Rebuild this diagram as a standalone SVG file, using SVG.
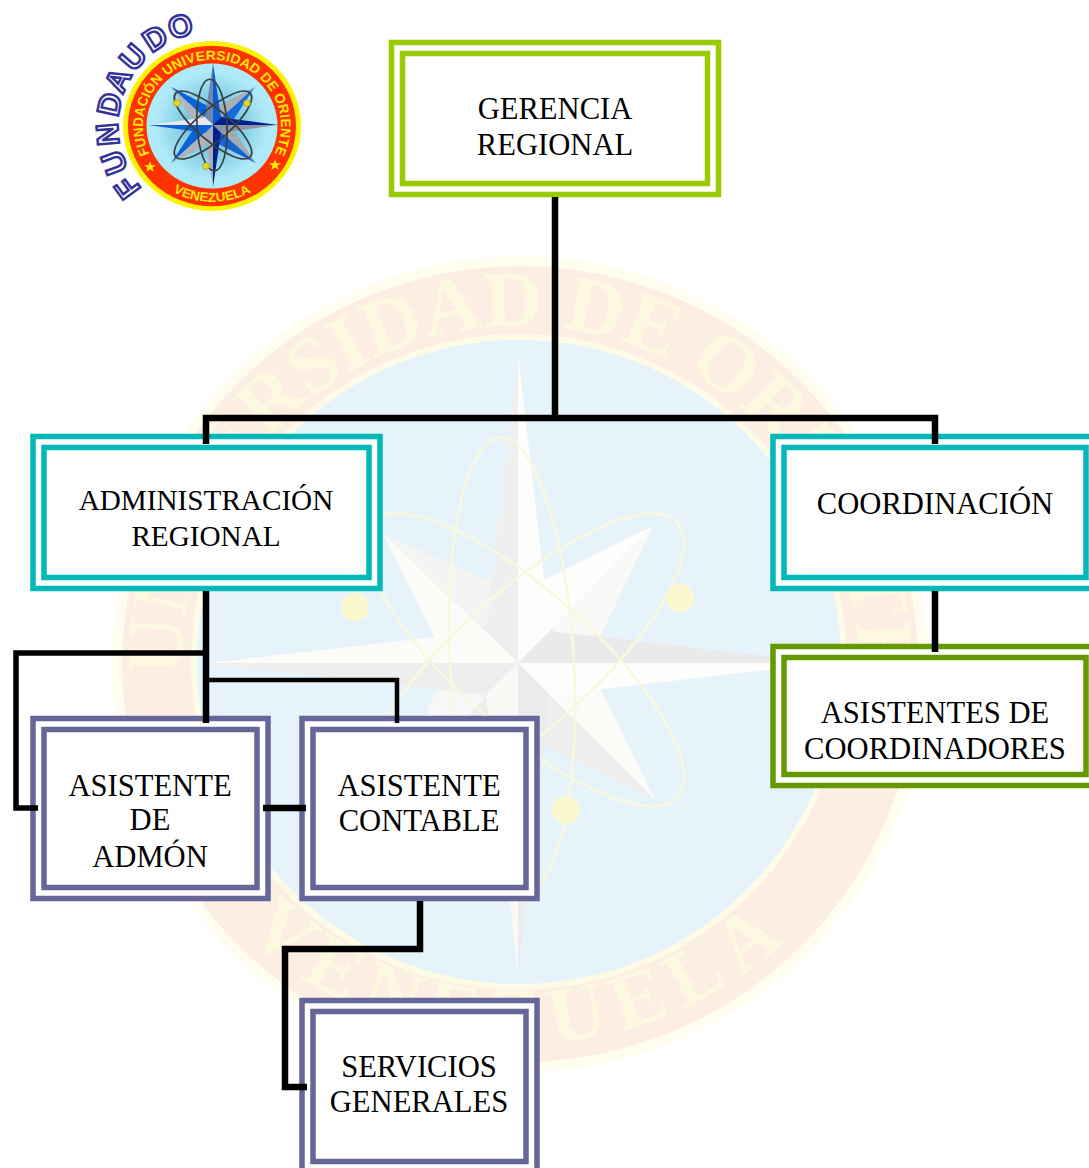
<svg xmlns="http://www.w3.org/2000/svg" width="1089" height="1168" viewBox="0 0 1089 1168">
<style>
.frame{fill:#fff;stroke-width:5.5}
.inner{fill:#fff;stroke-width:5.5}
.lime{stroke:#99cc00}.teal{stroke:#00b8b8}.moss{stroke:#669900}.slate{stroke:#666699}
.label{font-family:"Liberation Serif","Times New Roman",serif;font-size:30.6px;fill:#000;text-anchor:middle}
.narrow{font-size:29.2px}
.wire{fill:none;stroke:#000;stroke-width:6.5;stroke-linejoin:miter;stroke-linecap:butt}
.wm{font-family:"Liberation Serif",serif;font-weight:bold;font-size:80px;fill:#fdf9e0}
.lg{font-family:"Liberation Sans",Arial,sans-serif;font-weight:bold;fill:#ffe800}
.fu{font-family:"Liberation Sans",Arial,sans-serif;font-weight:bold;font-size:31px;fill:#fff;stroke:#333399;stroke-width:2.4;text-anchor:middle}
.orb{fill:none;stroke:#3a3f44;stroke-width:1.7}
.dot{fill:#e3d820;stroke:#8a8a20;stroke-width:.6}
.worb{fill:none;stroke:#f9f8dc;stroke-width:2.5}
</style>
<defs>
<radialGradient id="sky"><stop offset="0" stop-color="#4aa5c5"/><stop offset=".4" stop-color="#7cc8e0"/><stop offset=".85" stop-color="#aeeaf8"/></radialGradient>
<path id="wmTop" d="M204 784A338 338 0 1 1 836 784"/>
<path id="wmBot" d="M217 901A393 393 0 0 0 823 901"/>
<path id="lgTop" d="M151 158A69 69 0 1 1 273 158"/>
<path id="lgBot" d="M161 187A80 80 0 0 0 263 187"/>
</defs>

<g id="watermark">
<circle cx="520" cy="664" r="408" fill="#fffdf0"/>
<circle cx="520" cy="664" r="398" fill="#fdeee4"/>
<circle cx="519" cy="662" r="328" fill="#fdfbe6"/>
<circle cx="519" cy="662" r="322" fill="#e6f3fb"/>
<text class="wm"><textPath href="#wmTop" startOffset="50%" text-anchor="middle">UNIVERSIDAD DE ORIENTE</textPath></text>
<text class="wm" letter-spacing="12"><textPath href="#wmBot" startOffset="50%" text-anchor="middle">VENEZUELA</textPath></text>
<g transform="translate(518 663)">
<polygon points="-135,-129 -70,0 0,-70" fill="#f4f5f2"/>
<polygon points="135,-137 70,0 0,-70" fill="#f8f9f6"/>
<polygon points="137,137 70,0 0,70" fill="#eeeeee"/>
<polygon points="-128,137 -70,0 0,70" fill="#f7f8f5"/>
<polygon points="-135,-129 -70,0 0,0" fill="#fbfbf8"/>
<polygon points="135,-137 0,-70 0,0" fill="#fdfdfb"/>
<polygon points="137,137 70,0 0,0" fill="#fbfbf8"/>
<polygon points="-128,137 0,70 0,0" fill="#ededed"/>
<polygon points="0,-310 -32,-32 0,0" fill="#efefef"/>
<polygon points="0,-310 32,-32 0,0" fill="#fdfdfb"/>
<polygon points="310,0 32,-32 0,0" fill="#eaeaea"/>
<polygon points="310,0 32,32 0,0" fill="#fdfdfb"/>
<polygon points="0,310 32,32 0,0" fill="#ececec"/>
<polygon points="0,310 -32,32 0,0" fill="#f9f9f6"/>
<polygon points="-310,0 -32,32 0,0" fill="#eeeeee"/>
<polygon points="-310,0 -32,-32 0,0" fill="#fbfbf8"/>
</g>
<ellipse class="worb" cx="512" cy="665" rx="62" ry="228" transform="rotate(-3 512 665)"/>
<ellipse class="worb" cx="525" cy="660" rx="68" ry="205" transform="rotate(48 525 660)"/>
<ellipse class="worb" cx="525" cy="660" rx="68" ry="205" transform="rotate(132 525 660)"/>
<circle cx="355" cy="607" r="14" fill="#fbf8d0"/>
<circle cx="680" cy="598" r="14" fill="#fbf8d0"/>
<circle cx="566" cy="810" r="14" fill="#fbf8d0"/>
</g>

<g id="logo">
<g transform="translate(0 126) scale(1 .955) translate(0 -126)">
<circle cx="212" cy="126" r="89" fill="#fff200"/>
<circle cx="212" cy="126" r="84" fill="#ff3300"/>
<circle cx="212" cy="126" r="65.500" fill="url(#sky)"/>
<text class="lg" font-size="14" letter-spacing=".1"><textPath href="#lgTop" startOffset="50%" text-anchor="middle">FUNDACIÓN UNIVERSIDAD DE ORIENTE</textPath></text>
<text class="lg" font-size="13.5"><textPath href="#lgBot" startOffset="50%" text-anchor="middle">VENEZUELA</textPath></text>
<polygon points="150,163 151.600,167 156,167 152.500,169.700 153.800,174 150,171.400 146.200,174 147.500,169.700 144,167 148.400,167" fill="#ffe800"/>
<polygon points="275,161 276.600,165 281,165 277.500,167.700 278.800,172 275,169.400 271.200,172 272.500,167.700 269,165 273.400,165" fill="#ffe800"/>
<g transform="translate(213 125)">
<polygon points="-42,-40 -17,0 0,0" fill="#b0b4bc"/>
<polygon points="-42,-40 0,-17 0,0" fill="#0a62d8"/>
<polygon points="42,-40 17,0 0,0" fill="#1a6cdc"/>
<polygon points="42,-40 0,-17 0,0" fill="#a8adb6"/>
<polygon points="-42,40 -17,0 0,0" fill="#0a62d8"/>
<polygon points="-42,40 0,17 0,0" fill="#aeb2ba"/>
<polygon points="43,40 17,0 0,0" fill="#a4a9b2"/>
<polygon points="43,40 0,17 0,0" fill="#1464d0"/>
<polygon points="0,0 -17,0 0,-17" fill="#f6f8fb"/>
<polygon points="0,0 17,0 0,-17" fill="#001f96"/>
<polygon points="0,0 -17,0 0,17" fill="#0a6cf0"/>
<polygon points="0,0 17,0 0,17" fill="#9ca1aa"/>
<polygon points="0,-65 -8,-8 0,0" fill="#6f86aa"/>
<polygon points="0,-65 8,-8 0,0" fill="#0a5cd0"/>
<polygon points="65,0 8,-8 0,0" fill="#00208f"/>
<polygon points="65,0 8,8 0,0" fill="#8e94a0"/>
<polygon points="0,65 8,8 0,0" fill="#00208f"/>
<polygon points="0,65 -8,8 0,0" fill="#a7adb6"/>
<polygon points="-65,0 -8,8 0,0" fill="#0a62d8"/>
<polygon points="-65,0 -8,-8 0,0" fill="#e6e9ee"/>
</g>
<ellipse class="orb" cx="212" cy="125" rx="15" ry="48" transform="rotate(-3 212 125)"/>
<ellipse class="orb" cx="213" cy="125" rx="16" ry="50" transform="rotate(48 213 125)"/>
<ellipse class="orb" cx="213" cy="125" rx="16" ry="50" transform="rotate(132 213 125)"/>
<circle class="dot" cx="177" cy="102" r="3.500"/>
<circle class="dot" cx="247" cy="102" r="3.500"/>
<circle class="dot" cx="206" cy="168" r="3.500"/>
</g>
<text class="fu" x="212" y="32" transform="rotate(-126 212 126)">F</text>
<text class="fu" x="212" y="32" transform="rotate(-110.600 212 126)">U</text>
<text class="fu" x="212" y="32" transform="rotate(-94.700 212 126)">N</text>
<text class="fu" x="212" y="32" transform="rotate(-78 212 126)">D</text>
<text class="fu" x="212" y="32" transform="rotate(-64 212 126)">A</text>
<text class="fu" x="212" y="32" transform="rotate(-49 212 126)">U</text>
<text class="fu" x="212" y="32" transform="rotate(-33 212 126)">D</text>
<text class="fu" x="212" y="32" transform="rotate(-17.600 212 126)">O</text>
</g>

<g id="n-gerencia">
<rect class="frame lime" x="391.500" y="42.500" width="327" height="152"/>
<rect class="inner lime" x="402.500" y="53.500" width="305" height="130"/>
<text class="label" x="555" y="119">GERENCIA</text>
<text class="label" x="555" y="155">REGIONAL</text>
</g>
<g id="n-administracion">
<rect class="frame teal" x="33" y="436.500" width="347" height="152"/>
<rect class="inner teal" x="44" y="447.500" width="325" height="130"/>
<text class="label narrow" x="206" y="510">ADMINISTRACIÓN</text>
<text class="label narrow" x="206" y="546">REGIONAL</text>
</g>
<g id="n-coordinacion">
<rect class="frame teal" x="773" y="436.500" width="330" height="152"/>
<rect class="inner teal" x="784" y="447.500" width="302" height="130"/>
<text class="label" x="935" y="514">COORDINACIÓN</text>
</g>
<g id="n-asistentes-coord">
<rect class="frame moss" x="773" y="646.500" width="330" height="139"/>
<rect class="inner moss" x="784" y="657.500" width="302" height="117"/>
<text class="label" x="935" y="723">ASISTENTES DE</text>
<text class="label" x="935" y="759">COORDINADORES</text>
</g>
<g id="n-asistente-admon">
<rect class="frame slate" x="33" y="718.500" width="235" height="180"/>
<rect class="inner slate" x="44" y="729.500" width="213" height="158"/>
<text class="label" x="150" y="796">ASISTENTE</text>
<text class="label" x="150" y="830">DE</text>
<text class="label" x="150" y="867">ADMÓN</text>
</g>
<g id="n-asistente-contable">
<rect class="frame slate" x="302" y="718.500" width="235" height="180"/>
<rect class="inner slate" x="313" y="729.500" width="213" height="158"/>
<text class="label" x="419" y="796">ASISTENTE</text>
<text class="label" x="419" y="831">CONTABLE</text>
</g>
<g id="n-servicios">
<rect class="frame slate" x="302" y="1000.500" width="235" height="180"/>
<rect class="inner slate" x="313" y="1011.500" width="213" height="150"/>
<text class="label" x="419" y="1077">SERVICIOS</text>
<text class="label" x="419" y="1112">GENERALES</text>
</g>

<g id="connectors">
<path class="wire" d="M555 197V418"/>
<path class="wire" d="M206 444V418H935V444"/>
<path class="wire" d="M206 591V723"/>
<path class="wire" style="stroke-width:5.500" d="M206 653H16V808H38"/>
<path class="wire" style="stroke-width:4.500" d="M203 680H397V723"/>
<path class="wire" d="M263 808H306"/>
<path class="wire" d="M935 591V652"/>
<path class="wire" d="M420 901V949H285V1087H307"/>
</g>
</svg>
